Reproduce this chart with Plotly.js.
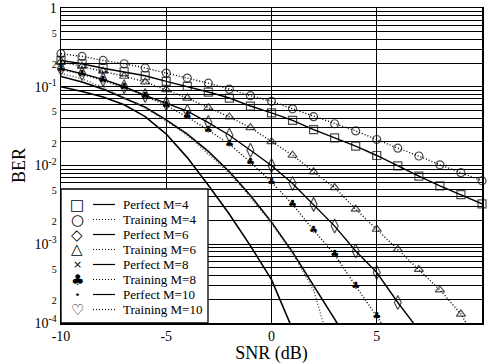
<!DOCTYPE html>
<html><head><meta charset="utf-8">
<script src="https://cdn.plot.ly/plotly-3.0.1.min.js"></script>
<style>body{margin:0;background:#fff}#c{width:488px;height:364px}</style>
</head><body><div id="c"></div>
<script>
// SNR (dB) values at which markers are drawn
const snr = [-10,-9,-8,-7,-6,-5,-4,-3,-2,-1,0,1,2,3,4,5,6,7,8,9,10];
// BER series
const perfectM4  = [0.216,0.196,0.172,0.155,0.138,0.117,0.101,0.0857,0.0719,0.0569,0.0465,0.0375,0.0286,0.0224,0.0176,0.0134,0.00989,0.00731,0.00552,0.00427,0.00326];
const trainingM4 = [0.263,0.243,0.216,0.196,0.173,0.149,0.129,0.111,0.0933,0.0771,0.0653,0.0525,0.0417,0.0339,0.0275,0.0214,0.0166,0.0132,0.0102,0.0081,0.0064];
const perfectM6  = [0.170,0.147,0.124,0.100,0.0776,0.0611,0.049,0.0351,0.0242,0.0156,0.0100,0.00592,0.00321,0.0017,0.00082,0.000437,0.000182,0.000081];
const trainingM6 = [0.209,0.182,0.158,0.136,0.115,0.0918,0.0719,0.0543,0.0413,0.0302,0.0201,0.0135,0.00832,0.00525,0.00279,0.00155,0.000861,0.000479,0.000263,0.00013,0.000045];
const perfectM8  = [0.135,0.115,0.0933,0.0724,0.055,0.038,0.0251,0.0151,0.00832,0.00417,0.00191,0.000794,0.000302,0.000112,0.00004];
const trainingM8 = [0.166,0.144,0.120,0.0977,0.0759,0.0581,0.0413,0.0282,0.0186,0.011,0.00617,0.00321,0.00151,0.000741,0.000295,0.00012,0.00005];
const perfectM10 = [0.100,0.0871,0.0741,0.0589,0.0417,0.0251,0.0126,0.00562,0.0024,0.000955,0.000355,0.0000832];
const trainingM10= [0.148,0.126,0.0977,0.0724,0.0543,0.0367,0.0242,0.0141,0.00794,0.00394,0.00184,0.000767,0.000263,0.000032];

const seriesNames = ['Perfect M=4','Training M=4','Perfect M=6','Training M=6','Perfect M=8','Training M=8','Perfect M=10','Training M=10'];
const legendSymbols = ['\u25A1','\u25CB','\u25C7','\u25B3','\u00D7','\u2663','\u22C6','\u2661'];
const xTicks = [-10,-5,0,5,10];

const F = 'Liberation Serif';
const DOT = '1px,2px';
function xs(arr){ return snr.slice(0, arr.length); }
function msize(arr, s){ return arr.map(v => v >= 1e-4 ? s : 0); }
function mtext(arr, ch){ return arr.map(v => v >= 1e-4 ? ch : ''); }

const traces = [
  {x: xs(perfectM4), y: perfectM4, mode:'lines+markers', line:{color:'#000', width:1.4},
   marker:{symbol:'square-open', size:msize(perfectM4,8), color:'#000', line:{width:1.2}}},
  {x: xs(trainingM4), y: trainingM4, mode:'lines+markers', line:{color:'#000', width:1.4, dash:DOT},
   marker:{symbol:'circle-open', size:msize(trainingM4,8), color:'#000', line:{width:1.2}}},
  {x: xs(perfectM6), y: perfectM6, mode:'lines+markers', line:{color:'#000', width:1.4},
   marker:{symbol:'diamond-tall-open', size:msize(perfectM6,10), color:'#000', line:{width:1.2}}},
  {x: xs(trainingM6), y: trainingM6, mode:'lines+markers', line:{color:'#000', width:1.4, dash:DOT},
   marker:{symbol:'triangle-up-open', size:msize(trainingM6,8), color:'#000', line:{width:1.2}}},
  {x: xs(perfectM8), y: perfectM8, mode:'lines', line:{color:'#000', width:1.6}},
  {x: xs(trainingM8), y: trainingM8, mode:'lines+text', line:{color:'#000', width:1.4, dash:DOT},
   text: mtext(trainingM8,'\u2663'), textposition:'middle center', textfont:{family:'DejaVu Sans', size:10, color:'#000'}},
  {x: xs(perfectM10), y: perfectM10, mode:'lines', line:{color:'#000', width:1.6}},
  {x: xs(trainingM10), y: trainingM10, mode:'lines+text', line:{color:'#444', width:1.4, dash:DOT},
   text: mtext(trainingM10,'\u2661'), textposition:'middle center', textfont:{family:'DejaVu Sans', size:9, color:'#999'}}
];
traces.forEach(t => { t.showlegend = false; t.hoverinfo = 'skip'; t.cliponaxis = false; });

// labelled log ticks and full log grid
const yVals = [], yText = [], yMinor = [];
for (let k = -4; k <= -1; k++) {
  for (let m = 1; m <= 9; m++) {
    const v = m * Math.pow(10, k);
    if (m === 1) { yVals.push(v); yText.push('10<sup>' + k + '</sup>'); }
    else if (m === 2 || m === 5) { yVals.push(v); yText.push('<span style="font-size:10px">' + m + '</span>'); yMinor.push(v); }
    else yMinor.push(v);
  }
}
yVals.push(1); yText.push('1');

const W = 488, H = 364, L = 61, R = 6, T = 8, B = 41;
const pw = W - L - R, ph = H - T - B;
const px = v => (v - L) / pw;
const py = v => (H - B - v) / ph;

const shapes = [{type:'rect', xref:'paper', yref:'paper', x0:0, x1:px(208), y0:0, y1:py(189),
  fillcolor:'#fff', line:{color:'#000', width:1.3}, layer:'above'}];
const annotations = [];
const rowY = [204.5,219.5,234.5,249.5,264.5,279.5,294.5,309.5];
seriesNames.forEach((n, i) => {
  const yy = py(rowY[i]);
  annotations.push({xref:'paper', yref:'paper', x:px(121), y:yy, xanchor:'left', yanchor:'middle',
    text:n, showarrow:false, font:{family:F, size:13, color:'#000'}});
  annotations.push({xref:'paper', yref:'paper', x:px(77), y:yy, xanchor:'center', yanchor:'middle',
    text:legendSymbols[i], showarrow:false, font:{family:'DejaVu Sans', size:(i===4||i===6)?11:15, color:'#000'}});
  shapes.push({type:'line', xref:'paper', yref:'paper', x0:px(93), x1:px(115), y0:yy, y1:yy,
    line:{color:'#000', width: i%2 ? 1 : 1.2, dash: i%2 ? DOT : 'solid'}, layer:'above'});
});

const layout = {
  width: W, height: H,
  margin: {l:L, r:R, t:T, b:B, pad:0},
  paper_bgcolor:'#fff', plot_bgcolor:'#fff',
  showlegend:false,
  font:{family:F, color:'#000'},
  xaxis: {range:[-10,10], tickvals:xTicks, ticktext:xTicks.map(String), ticks:'', showgrid:true,
    gridcolor:'#000', gridwidth:1, zeroline:false, showline:true, mirror:true, linecolor:'#000', linewidth:1.5,
    tickfont:{family:F, size:14}, title:{text:'SNR (dB)', font:{family:F, size:18}, standoff:0}},
  yaxis: {type:'log', range:[-4,0], tickvals:yVals, ticktext:yText, ticks:'', showgrid:true,
    gridcolor:'#000', gridwidth:1, zeroline:false, showline:true, mirror:true, linecolor:'#000', linewidth:1.5,
    minor:{tickmode:'array', tickvals:yMinor, showgrid:true, gridcolor:'#000', gridwidth:1, ticks:''},
    tickfont:{family:F, size:14}, title:{text:'BER', font:{family:F, size:18}, standoff:4}},
  shapes: shapes, annotations: annotations
};
Plotly.newPlot('c', traces, layout, {staticPlot:true, displayModeBar:false});
</script></body></html>
